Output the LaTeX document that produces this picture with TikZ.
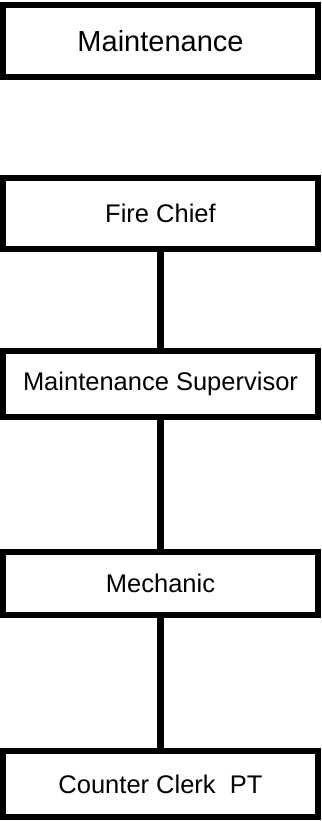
\documentclass[tikz,border=0pt]{standalone}
\usepackage{fontspec}
\setmainfont{Liberation Sans}
\begin{document}
\begin{tikzpicture}[x=1pt,y=-1pt,
  orgbox/.style={draw=black, line width=6pt, fill=white, inner sep=0pt,
    minimum width=315pt, font=\fontsize{25.5}{30}\selectfont},
  link/.style={draw=black, line width=6.5pt}]
\useasboundingbox (0,0) rectangle (321,821);
\node[orgbox, minimum height=72pt, font=\fontsize{29}{34}\selectfont] (maint) at (160.5,41) {Maintenance};
\node[orgbox, minimum height=71pt] (chief) at (160.5,213.5) {Fire Chief};
\node[orgbox, minimum height=66pt] (sup) at (160.5,384) {Maintenance Supervisor};
\node[orgbox, minimum height=63pt] (mech) at (160.5,583.5) {Mechanic};
\node[orgbox, minimum height=66pt] (clerk) at (160.5,784) {Counter Clerk\ \ PT};
\draw[link] (chief.south) -- (sup.north);
\draw[link] (sup.south) -- (mech.north);
\draw[link] (mech.south) -- (clerk.north);
\end{tikzpicture}
\end{document}
